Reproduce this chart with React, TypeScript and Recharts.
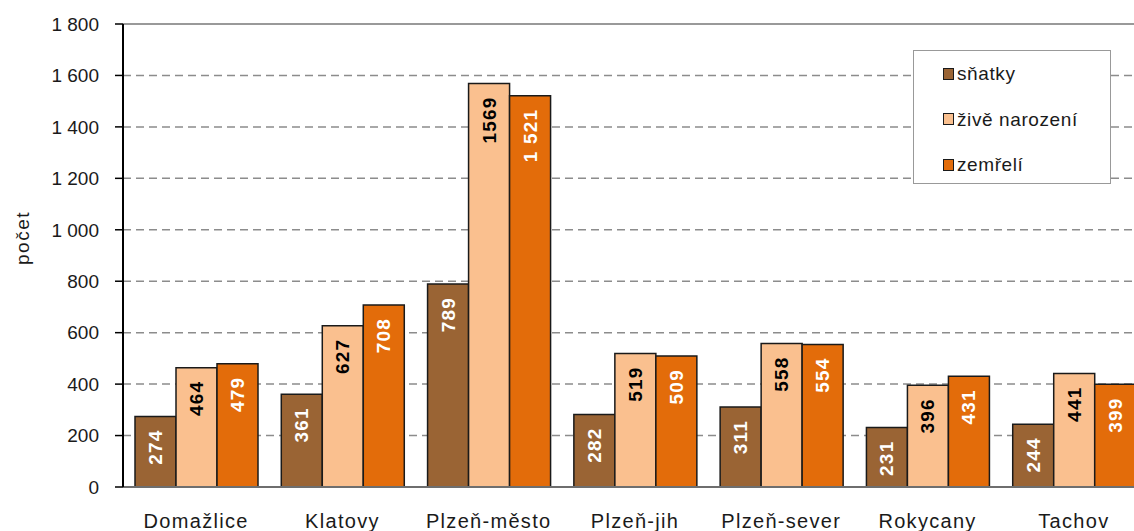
import { Bar, BarChart, CartesianGrid, Label, LabelList, Legend, ReferenceLine, XAxis, YAxis } from 'recharts';

const districts = ['Domažlice', 'Klatovy', 'Plzeň-město', 'Plzeň-jih', 'Plzeň-sever', 'Rokycany', 'Tachov'];
const marriages = [274, 361, 789, 282, 311, 231, 244];
const liveBirths = [464, 627, 1569, 519, 558, 396, 441];
const deaths = [479, 708, 1521, 509, 554, 431, 399];
const yTicks = [0, 200, 400, 600, 800, 1000, 1200, 1400, 1600, 1800];

const FONT = '"Liberation Sans", Arial, sans-serif';

const seriesDefs = [
  { key: 'snatky', name: 'sňatky', color: '#9a6434', text: '#ffffff', spaced: true },
  { key: 'zive', name: 'živě narození', color: '#fac08f', text: '#000000', spaced: false },
  { key: 'zemreli', name: 'zemřelí', color: '#e36c0a', text: '#ffffff', spaced: true },
];

const data = districts.map((name, i) => ({
  name,
  snatky: marriages[i],
  zive: liveBirths[i],
  zemreli: deaths[i],
}));

function withSpace(v: number) {
  if (v < 1000) return String(v);
  return `${Math.floor(v / 1000)} ${String(v % 1000).padStart(3, '0')}`;
}

function BarValue(props: any) {
  const { x, y, width, value, fill, spaced } = props;
  const cx = Number(x) + Number(width) / 2;
  const ty = Number(y) + 13;
  return (
    <text
      x={cx}
      y={ty}
      transform={`rotate(-90 ${cx} ${ty})`}
      textAnchor="end"
      dominantBaseline="central"
      fill={fill}
      fontFamily={FONT}
      fontSize={19}
      fontWeight="bold"
      letterSpacing={1.2}
    >
      {spaced ? withSpace(value) : String(value)}
    </text>
  );
}

function CategoryTick({ x, y, payload }: any) {
  return (
    <text x={x} y={y} dy={33} textAnchor="middle" fill="#1a1a1a" fontFamily={FONT} fontSize={20} letterSpacing={1.3}>
      {payload.value}
    </text>
  );
}

function LegendBox() {
  return (
    <div
      style={{
        width: 198,
        height: 134,
        border: '1.5px solid #999',
        background: '#fff',
        boxSizing: 'border-box',
        paddingTop: 0,
        fontFamily: FONT,
      }}
    >
      {seriesDefs.map((s) => (
        <div key={s.key} style={{ display: 'flex', alignItems: 'center', height: 45.5, paddingLeft: 29 }}>
          <span
            style={{
              width: 9,
              height: 10,
              background: s.color,
              border: '1.5px solid #1a1a1a',
              marginRight: 3,
              display: 'inline-block',
            }}
          />
          <span style={{ fontSize: 19, letterSpacing: 0.6, color: '#1a1a1a', lineHeight: 1 }}>{s.name}</span>
        </div>
      ))}
    </div>
  );
}

export default function App() {
  return (
    <div style={{ position: 'fixed', left: 0, top: 0, width: 1134, height: 531, overflow: 'hidden', background: '#fff' }}>
      <BarChart
        width={1160}
        height={531}
        data={data}
        margin={{ top: 24, right: 13, left: 0, bottom: 0 }}
        barCategoryGap={12}
        barGap={0}
      >
        <CartesianGrid vertical={false} stroke="#8c8c8c" strokeWidth={1.5} strokeDasharray="8 5" />
        <ReferenceLine y={1800} stroke="#999" strokeWidth={2} />
        <XAxis
          dataKey="name"
          height={44}
          tickLine={false}
          axisLine={{ stroke: '#6e6e6e', strokeWidth: 2 }}
          tick={<CategoryTick />}
          interval={0}
        />
        <YAxis
          width={123}
          domain={[0, 1800]}
          ticks={yTicks}
          interval={0}
          tickFormatter={withSpace}
          tickSize={8}
          tickMargin={16}
          axisLine={{ stroke: '#000', strokeWidth: 2 }}
          tickLine={{ stroke: '#000', strokeWidth: 1.5 }}
          tick={{ fill: '#1a1a1a', fontSize: 19, fontFamily: FONT }}
        >
          <Label
            content={() => (
              <text
                x={22}
                y={238}
                transform="rotate(-90 22 238)"
                textAnchor="middle"
                dominantBaseline="central"
                fill="#1a1a1a"
                fontFamily={FONT}
                fontSize={19}
                letterSpacing={1.5}
              >
                počet
              </text>
            )}
          />
        </YAxis>
        <Legend
          layout="horizontal"
          verticalAlign="middle"
          align="center"
          content={<LegendBox />}
          wrapperStyle={{ left: 913, top: 50, width: 198, height: 134 }}
        />
        {seriesDefs.map((s) => (
          <Bar
            key={s.key}
            dataKey={s.key}
            name={s.name}
            fill={s.color}
            stroke="#1a1a1a"
            strokeWidth={1.5}
            isAnimationActive={false}
          >
            <LabelList dataKey={s.key} content={(p: any) => <BarValue {...p} fill={s.text} spaced={s.spaced} />} />
          </Bar>
        ))}
      </BarChart>
    </div>
  );
}
